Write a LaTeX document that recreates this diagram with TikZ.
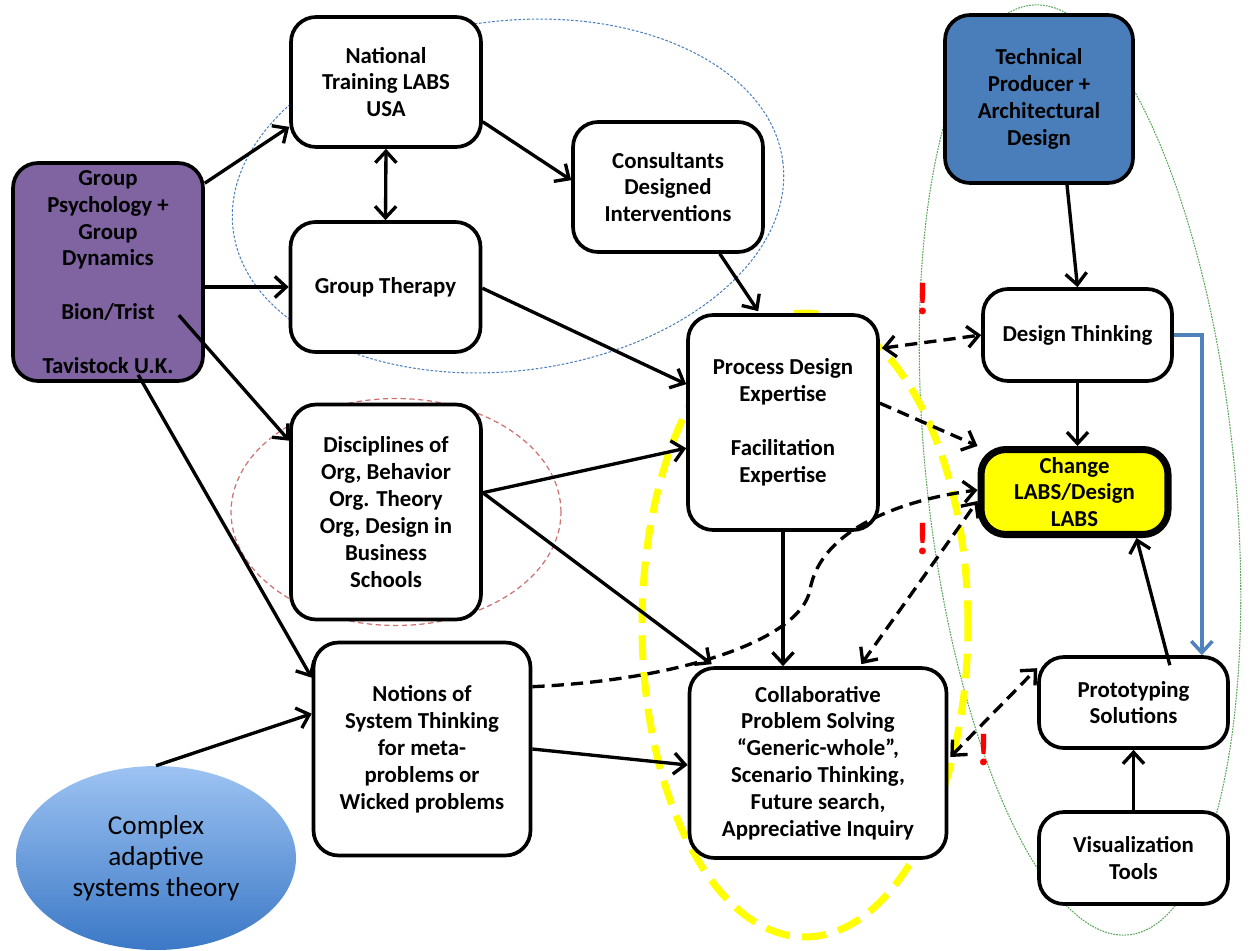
\documentclass[tikz,border=0pt]{standalone}
\usepackage{fontspec}
\setmainfont{Carlito}
\usetikzlibrary{arrows.meta,calc,shapes.geometric}
\definecolor{gpurple}{HTML}{8064A2}
\definecolor{techblue}{HTML}{4A7EBB}
\definecolor{linkblue}{HTML}{4F81BD}
\definecolor{dotblue}{HTML}{4F81BD}
\definecolor{dotred}{HTML}{D07070}
\definecolor{dotgreen}{HTML}{5AA55A}
\definecolor{hiyellow}{HTML}{FFFF00}
\definecolor{casTop}{HTML}{9DC3F2}
\definecolor{casBot}{HTML}{3B78C6}
\begin{document}
\begin{tikzpicture}[x=0.02cm,y=-0.02cm,
  box/.style={draw=black, line width=2.1pt, rounded corners=0.5cm, fill=white,
    align=center, inner sep=0pt, font=\fontsize{13}{15.3}\selectfont\bfseries},
  arr/.style={line width=1.9pt, -{Straight Barb[length=6.5pt,width=12pt]}},
  darr/.style={arr, dash pattern=on 7pt off 4pt},
  ddarr/.style={line width=1.9pt, dash pattern=on 7pt off 4pt,
    {Straight Barb[length=6.5pt,width=12pt]}-{Straight Barb[length=6.5pt,width=12pt]}},
  excl/.style={text=red, font=\fontsize{26}{26}\selectfont\bfseries, inner sep=0pt}
]
\useasboundingbox (0,0) rectangle (1253,950);

% background grouping ellipses
\draw[dotblue, line width=0.6pt, dash pattern=on 1.5pt off 1pt]
  [rotate around={7:(508,196)}] (508,196) ellipse [x radius=5.54cm, y radius=3.5cm];
\draw[dotred, line width=0.7pt, dash pattern=on 3pt off 2pt]
  (396,512) ellipse [x radius=3.3cm, y radius=2.27cm];
\draw[dotgreen, line width=0.6pt, dash pattern=on 1pt off 0.6pt]
  [rotate around={6:(1080,470)}] (1080,470) ellipse [x radius=3.08cm, y radius=9.35cm];
\draw[hiyellow, line width=4pt, dash pattern=on 14pt off 7pt]
  (805,625) ellipse [x radius=3.26cm, y radius=6.24cm];

% nodes
\node[box, fill=gpurple, minimum width=3.8cm, minimum height=4.36cm] (gp) at (108,272)
  {Group\\Psychology +\\Group\\Dynamics\\[15.3pt]Bion/Trist\\[15.3pt]Tavistock U.K.};
\node[box, minimum width=3.8cm, minimum height=2.6cm] (ntl) at (386,82)
  {National\\Training LABS\\USA};
\node[box, minimum width=3.8cm, minimum height=2.6cm] (cons) at (668,187)
  {Consultants\\Designed\\Interventions};
\node[box, minimum width=3.8cm, minimum height=2.6cm] (gt) at (385.5,287)
  {Group Therapy};
\node[box, minimum width=3.8cm, minimum height=4.3cm] (disc) at (386,512)
  {Disciplines of\\Org, Behavior\\Org. Theory\\Org, Design in\\Business\\Schools};
\node[box, minimum width=4.34cm, minimum height=4.26cm] (notions) at (422,749)
  {Notions of\\System Thinking\\for meta-\\problems or\\Wicked problems};
\node[box, minimum width=3.8cm, minimum height=4.3cm] (pd) at (783,422.5)
  {Process Design\\Expertise\\[15.3pt]Facilitation\\Expertise};
\node[box, minimum width=5.14cm, minimum height=3.8cm] (collab) at (818,763)
  {Collaborative\\Problem Solving\\“Generic-whole”,\\Scenario Thinking,\\Future search,\\Appreciative Inquiry};
\node[box, fill=techblue, minimum width=3.76cm, minimum height=3.36cm] (tech) at (1039,99)
  {Technical\\Producer +\\Architectural\\Design};
\node[box, minimum width=3.78cm, minimum height=1.84cm] (dt) at (1077.5,335)
  {Design Thinking};
\node[box, fill=hiyellow, line width=4pt, minimum width=3.74cm, minimum height=1.7cm] (cl) at (1074.5,492)
  {Change\\LABS/Design\\LABS};
\node[box, minimum width=3.78cm, minimum height=1.82cm] (proto) at (1133.5,702.5)
  {Prototyping\\Solutions};
\node[box, minimum width=3.78cm, minimum height=1.84cm] (vis) at (1133.5,858)
  {Visualization\\Tools};
\node[ellipse, draw=none, top color=casTop, bottom color=casBot, minimum width=5.6cm,
  minimum height=3.68cm, inner sep=0pt, align=center,
  font=\fontsize{15.5}{17.6}\selectfont] (cas) at (156,858)
  {Complex\\adaptive\\systems theory};

% solid connectors
\draw[arr] ($(gp.north east)+(0,22)$) -- ($(ntl.south west)+(0,-22)$);
\draw[line width=1.9pt, {Straight Barb[length=6.5pt,width=12pt]}-{Straight Barb[length=6.5pt,width=12pt]}]
  (ntl.south) -- (gt.north);
\draw[arr] ($(ntl.south east)+(0,-27)$) -- ($(cons.north west)+(0,60)$);
\draw[arr] (gp.east |- gt.west) -- (gt.west);
\draw[arr] ($(gt.north east)+(0,68)$) -- ($(pd.north west)+(0,71)$);
\draw[arr] ($(cons.south east)+(-45,0)$) -- ($(pd.north west)+(72,-2)$);
\draw[arr] ($(gp.north east)+(-26,154)$) -- ($(disc.north west)+(0,38)$);
\draw[arr] ($(gp.south west)+(127,-8)$) -- ($(notions.north west)+(0,37)$);
\draw[arr] ($(disc.north east)+(0,90)$) -- ($(pd.north west)+(0,135)$);
\draw[arr] ($(disc.north east)+(0,90)$) -- ($(collab.north west)+(24,-2)$);
\draw[arr] (pd.south) -- (pd.south |- collab.north);
\draw[arr] (notions.east) -- ($(collab.west)+(0,2)$);
\draw[arr] (cas.north) -- ($(notions.north west)+(0,73)$);
\draw[arr] ($(tech.south)+(28,0)$) -- (dt.north);
\draw[arr] (dt.south) -- (dt.south |- cl.north);
\draw[arr] ($(proto.north east)+(-60,10)$) -- ($(cl.south east)+(-35,0)$);
\draw[arr] (vis.north) -- (proto.south);
\draw[arr, draw=linkblue, line width=2pt] (dt.east) -| ($(proto.north east)+(-28,0)$);

% dashed connectors
\draw[ddarr] ($(pd.north east)+(2,35)$) -- (dt.west);
\draw[darr] ($(pd.north east)+(0,90)$) -- (cl.north west);
\draw[darr] ($(notions.north east)+(0,46)$) .. controls (680,680) and (800,640) .. (810,590)
  .. controls (820,530) and (900,500) .. ($(cl.west)+(0,-2)$);
\draw[ddarr] ($(collab.north east)+(-87,-2)$) -- ($(cl.west)+(0,9)$);
\draw[ddarr] ($(collab.east)+(2,-6)$) -- ($(proto.north west)+(0,13)$);

% exclamation marks
\node[excl] (ex1) at (923,299) {!};
\node[excl] (ex2) at (923,539) {!};
\node[excl] (ex3) at (984,750) {!};
\end{tikzpicture}
\end{document}
